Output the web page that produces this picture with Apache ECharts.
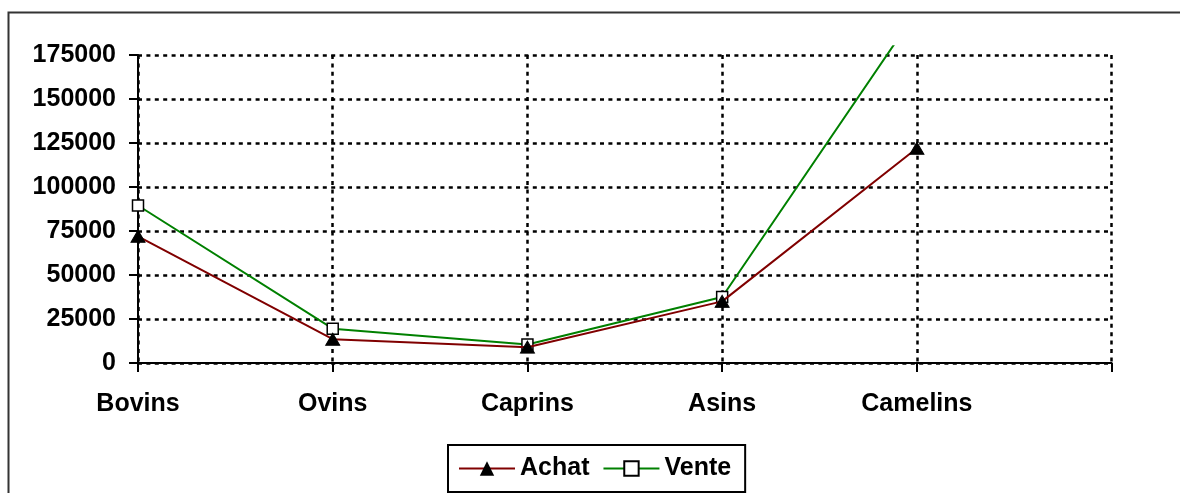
<!DOCTYPE html>
<html>
<head>
<meta charset="utf-8">
<script src="https://cdn.jsdelivr.net/npm/echarts@6/dist/echarts.min.js"></script>
<style>
html,body{margin:0;padding:0;background:#fff;}
#chart{width:1180px;height:493px;}
</style>
</head>
<body>
<div id="chart"></div>
<script>
const categories = ['Bovins', 'Ovins', 'Caprins', 'Asins', 'Camelins', ''];
const achat = [72000, 13500, 9000, 35000, 122000];
const vente = [89500, 19500, 10500, 37500, 200000];
const yTicks = [0, 25000, 50000, 75000, 100000, 125000, 150000, 175000];

const FONT = '"Liberation Sans", Arial, sans-serif';
const chart = echarts.init(document.getElementById('chart'), null, {renderer: 'canvas'});
const dotted = {color: '#000', width: 2.5, type: [4, 4.4]};
const gridBox = {left: 138, right: 68.4, bottom: 130};

chart.setOption({
  animation: false,
  backgroundColor: '#fff',
  graphic: [{
    type: 'rect', silent: true, z: -10,
    shape: {x: 8.5, y: 12.5, width: 1300, height: 700},
    style: {fill: 'none', stroke: '#333', lineWidth: 2}
  }],
  grid: [
    Object.assign({top: 55}, gridBox),
    Object.assign({top: 55 - 308 * (180000 - 175000) / 175000}, gridBox)
  ],
  legend: {
    data: ['Achat', 'Vente'],
    left: 448, top: 445,
    orient: 'horizontal',
    itemWidth: 56, itemHeight: 18, itemGap: 13,
    padding: [11, 14, 11, 10],
    borderColor: '#000', borderWidth: 2,
    textStyle: {fontFamily: FONT, fontSize: 25, fontWeight: 'bold', color: '#000'}
  },
  xAxis: [{
    type: 'category', gridIndex: 0, data: categories, boundaryGap: false,
    axisLine: {lineStyle: {color: '#000', width: 2}},
    axisTick: {show: true, length: 9, lineStyle: {color: '#000', width: 2}},
    axisLabel: {margin: 29, fontFamily: FONT, fontSize: 25, fontWeight: 'bold', color: '#000', interval: 0},
    splitLine: {show: true, lineStyle: dotted}
  }, {
    type: 'category', gridIndex: 1, data: categories, boundaryGap: false, show: false
  }],
  yAxis: [{
    type: 'value', gridIndex: 0, min: 0, max: 175000, interval: 25000,
    axisLine: {show: true, lineStyle: {color: '#000', width: 2}},
    axisTick: {show: true, length: 9, lineStyle: {color: '#000', width: 2}},
    axisLabel: {margin: 22, fontFamily: FONT, fontSize: 25, fontWeight: 'bold', color: '#000',
      formatter: v => yTicks.includes(v) ? String(v) : ''},
    splitLine: {show: true, lineStyle: dotted}
  }, {
    type: 'value', gridIndex: 1, min: 0, max: 180000, show: false, splitLine: {show: false}
  }],
  series: [{
    name: 'Achat', type: 'line', xAxisIndex: 1, yAxisIndex: 1, data: achat,
    symbol: 'triangle', symbolSize: [14, 12], showAllSymbol: true,
    lineStyle: {color: '#800000', width: 2},
    itemStyle: {color: '#000', borderColor: '#000'},
    clip: true, z: 3
  }, {
    name: 'Vente', type: 'line', xAxisIndex: 1, yAxisIndex: 1, data: vente,
    symbol: 'rect', symbolSize: 11, showAllSymbol: true,
    lineStyle: {color: '#008000', width: 2},
    itemStyle: {color: '#fff', borderColor: '#000', borderWidth: 1.5},
    clip: true, z: 2
  }]
});
</script>
</body>
</html>
